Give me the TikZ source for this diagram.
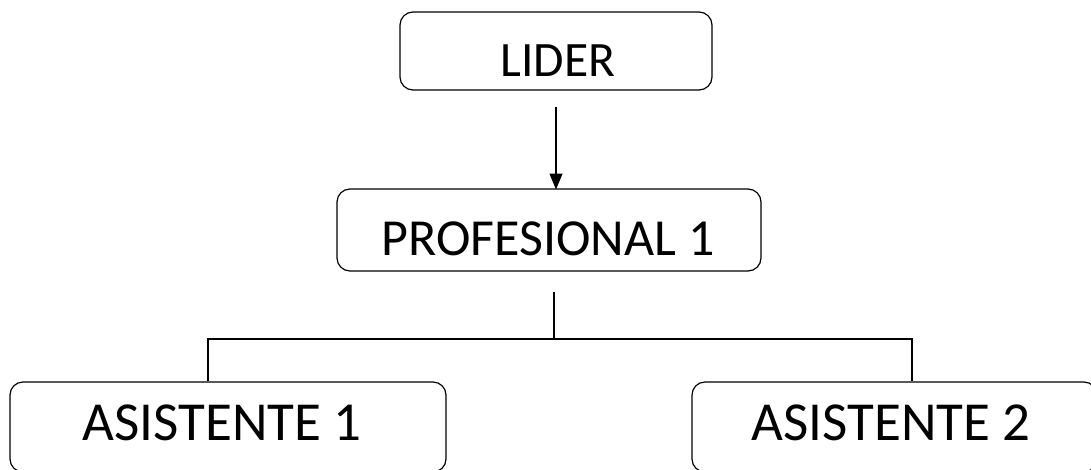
\documentclass[tikz,border=0pt]{standalone}
\usepackage{fontspec}
\setmainfont{Carlito}
\usetikzlibrary{arrows.meta}
\begin{document}
\begin{tikzpicture}[x=1pt,y=-1pt,
  box/.style={draw=black,line width=1.2pt,rounded corners=13pt,inner sep=0pt},
  lbl/.style={anchor=base,inner sep=0pt},
  conn/.style={line width=1.2pt}]
\useasboundingbox (0,0) rectangle (1091,469);
\clip (0,0) rectangle (1091,469);
\fill[white] (0,0) rectangle (1091,469);
% boxes
\node[box,minimum width=312pt,minimum height=78pt] (lider) at (556,51) {};
\node[box,minimum width=424pt,minimum height=82pt] (prof) at (549,230) {};
\node[box,minimum width=436pt,minimum height=90pt] (as1) at (228,427) {};
\node[box,minimum width=405pt,minimum height=90pt] (as2) at (894.5,427) {};
% labels
\node[lbl,font=\fontsize{49.5}{58}\selectfont] (tl) at (558,76.5) {LIDER};
\node[lbl,font=\fontsize{52}{60}\selectfont] (tp) at (548,255) {PROFESIONAL 1};
\node[lbl,font=\fontsize{55}{64}\selectfont] (ta1) at (222,440) {ASISTENTE 1};
\node[lbl,font=\fontsize{55}{64}\selectfont] (ta2) at (891,440) {ASISTENTE 2};
% connectors
\coordinate (a0) at (556,107);
\coordinate (a1) at (556,189.5);
\draw[conn,-{Triangle[length=16pt,width=13pt]}] (a0) -- (a1);
\coordinate (p0) at (554,292);
\coordinate (p1) at (554,339);
\coordinate (h1) at (208,339);
\coordinate (h2) at (912,339);
\draw[conn] (p0) -- (p1);
\draw[conn] (as1.north -| h1) -- (h1) -- (h2) -- (as2.north -| h2);
\end{tikzpicture}
\end{document}
